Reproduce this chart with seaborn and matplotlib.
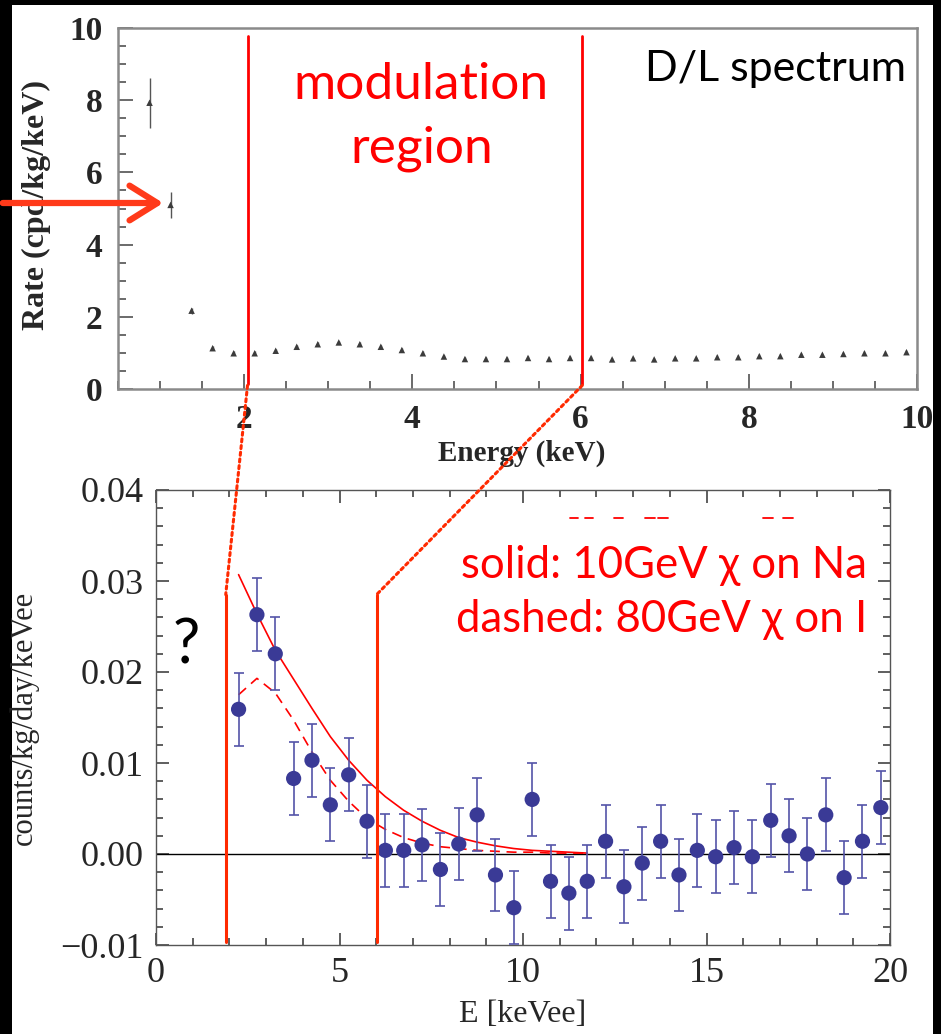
import numpy as np
import pandas as pd
import matplotlib
matplotlib.use("Agg")
import matplotlib.pyplot as plt
import seaborn as sns
from matplotlib.patches import Rectangle, FancyArrowPatch, ConnectionPatch
from matplotlib.ticker import MultipleLocator

# ---------------- data ----------------
# top panel: DAMA/LIBRA low-energy spectrum
dl_energy = [0.875, 1.125, 1.375, 1.625, 1.875, 2.125, 2.375, 2.625, 2.875, 3.125,
             3.375, 3.625, 3.875, 4.125, 4.375, 4.625, 4.875, 5.125, 5.375, 5.625,
             5.875, 6.125, 6.375, 6.625, 6.875, 7.125, 7.375, 7.625, 7.875, 8.125,
             8.375, 8.625, 8.875, 9.125, 9.375, 9.625, 9.875]
dl_rate = [7.93, 5.10, 2.17, 1.13, 0.99, 0.99, 1.06, 1.17, 1.24, 1.29,
           1.24, 1.17, 1.08, 0.99, 0.90, 0.83, 0.83, 0.83, 0.86, 0.83,
           0.86, 0.86, 0.82, 0.85, 0.82, 0.85, 0.85, 0.88, 0.88, 0.91,
           0.91, 0.95, 0.95, 0.97, 0.99, 0.99, 1.02]
dl_err = [0.69, 0.35, 0.08] + [0.05] * 34

# bottom panel: residual spectrum
e_kevee = [2.25, 2.75, 3.25, 3.75, 4.25, 4.75, 5.25, 5.75, 6.25, 6.75,
           7.25, 7.75, 8.25, 8.75, 9.25, 9.75, 10.25, 10.75, 11.25, 11.75,
           12.25, 12.75, 13.25, 13.75, 14.25, 14.75, 15.25, 15.75, 16.25, 16.75,
           17.25, 17.75, 18.25, 18.75, 19.25, 19.75]
counts = [0.0159, 0.0263, 0.0220, 0.0083, 0.0103, 0.0054, 0.0087, 0.0036, 0.0004, 0.0004,
          0.0010, -0.0017, 0.0011, 0.0043, -0.0023, -0.0059, 0.0060, -0.0030, -0.0043, -0.0030,
          0.0014, -0.0036, -0.0010, 0.0014, -0.0023, 0.0004, -0.0003, 0.0007, -0.0003, 0.0037,
          0.0020, 0.0000, 0.0043, -0.0026, 0.0014, 0.0051]
counts_err = [0.0040] * 36

curve_e = [2.25, 2.75, 3.25, 3.75, 4.25, 4.75, 5.25, 5.75, 6.25, 6.75,
           7.25, 7.75, 8.25, 8.75, 9.25, 9.75, 10.25, 10.75, 11.25, 11.75]
solid_na10 = [0.0307, 0.0264, 0.0224, 0.0192, 0.0160, 0.0129, 0.0103, 0.0081, 0.0063, 0.0048,
              0.0036, 0.0026, 0.0018, 0.0013, 0.0009, 0.0006, 0.0004, 0.0003, 0.0002, 0.0001]
dashed_i80 = [0.0175, 0.0193, 0.0177, 0.0147, 0.0112, 0.0081, 0.0058, 0.0039, 0.0027, 0.0018,
              0.0012, 0.0008, 0.0006, 0.0004, 0.0003, 0.0002, 0.0002, 0.0001, 0.0001, 0.0001]

top_xticks = [2, 4, 6, 8, 10]
top_yticks = [0, 2, 4, 6, 8, 10]
bot_xticks = [0, 5, 10, 15, 20]
bot_yticks = [-0.01, 0.00, 0.01, 0.02, 0.03, 0.04]

# ---------------- style ----------------
sns.set_style("ticks")
plt.rcParams["font.family"] = ["Liberation Serif", "DejaVu Serif"]
plt.rcParams["xtick.direction"] = "in"
plt.rcParams["ytick.direction"] = "in"

W, H = 941, 1034
fig = plt.figure(figsize=(W / 100, H / 100), dpi=100)
fig.patch.set_facecolor("black")
bg = Rectangle((12 / W, 0), (933 - 12) / W, 1 - 5 / H,
               transform=fig.transFigure, facecolor="white",
               edgecolor="none", zorder=-10)
fig.add_artist(bg)

def fx(px):
    return px / W

def fy(py):
    return 1 - py / H

SANS = ["Lato", "DejaVu Sans"]
RED = "#ff0000"

# ---------------- top panel ----------------
ax1 = fig.add_axes([fx(118), fy(389), fx(917) - fx(118), fy(28) - fy(389)])
ax1.set_facecolor("white")
df_top = pd.DataFrame({"E": dl_energy, "R": dl_rate, "err": dl_err})
ax1.errorbar(df_top["E"], df_top["R"], yerr=df_top["err"], fmt="none",
             ecolor="#555555", elinewidth=1.0, capsize=0, zorder=2)
sns.scatterplot(data=df_top, x="E", y="R", ax=ax1, marker="^", s=22,
                color="#3c3c3c", edgecolor="none", zorder=3, legend=False)
ax1.set_xlim(0.5, 10)
ax1.set_ylim(0, 10)
ax1.set_xticks(top_xticks)
ax1.set_yticks(top_yticks)
ax1.xaxis.set_minor_locator(MultipleLocator(0.5))
ax1.yaxis.set_minor_locator(MultipleLocator(0.5))
ax1.tick_params(axis="both", which="major", direction="in", length=11, width=1.4,
                color="#6a6a6a", labelsize=24, pad=11, bottom=True, left=True,
                top=False, right=False)
ax1.tick_params(axis="both", which="minor", direction="in", length=5.5, width=1.4,
                color="#6a6a6a", bottom=True, left=True, top=False, right=False)
for lab in ax1.get_xticklabels() + ax1.get_yticklabels():
    lab.set_fontweight("bold")
for sp in ax1.spines.values():
    sp.set_color("#8a8a8a")
    sp.set_linewidth(1.8)
ax1.set_xlabel("Energy (keV)", fontsize=21, fontweight="bold")
ax1.set_ylabel("Rate (cpd/kg/keV)", fontsize=23, fontweight="bold")
ax1.xaxis.set_label_coords(0.505, -0.141)
ax1.yaxis.set_label_coords(-0.084, 0.51)

# red region lines on top panel
for xv in (2.04, 6.02):
    ax1.plot([xv, xv], [0.15, 9.78], color=RED, lw=2.0, zorder=4)

# ---------------- bottom panel ----------------
ax2 = fig.add_axes([fx(156), fy(945), fx(890) - fx(156), fy(490) - fy(945)])
ax2.set_facecolor("white")
df_bot = pd.DataFrame({"E": e_kevee, "c": counts, "err": counts_err})
df_curve = pd.DataFrame({"E": curve_e, "solid": solid_na10, "dashed": dashed_i80})

ax2.axhline(0, color="black", lw=1.0, zorder=1)
sns.lineplot(data=df_curve, x="E", y="solid", ax=ax2, color=RED, lw=1.2, zorder=2)
sns.lineplot(data=df_curve, x="E", y="dashed", ax=ax2, color=RED, lw=1.2,
             dashes=(6, 4), zorder=2)
ax2.errorbar(df_bot["E"], df_bot["c"], yerr=df_bot["err"], fmt="none",
             ecolor="#5454a8", elinewidth=1.2, capsize=3.5, capthick=1.2, zorder=3)
sns.scatterplot(data=df_bot, x="E", y="c", ax=ax2, s=120, color="#3a3a96",
                edgecolor="none", zorder=4, legend=False)
ax2.set_xlim(0, 20)
ax2.set_ylim(-0.01, 0.04)
ax2.set_xticks(bot_xticks)
ax2.set_yticks(bot_yticks)
ax2.set_yticklabels(["\u22120.01", "0.00", "0.01", "0.02", "0.03", "0.04"])
ax2.xaxis.set_minor_locator(MultipleLocator(1))
ax2.yaxis.set_minor_locator(MultipleLocator(0.002))
ax2.tick_params(axis="both", which="major", direction="in", length=9, width=1.1,
                color="#333333", labelsize=26, pad=9, top=True, right=True,
                bottom=True, left=True)
ax2.tick_params(axis="both", which="minor", direction="in", length=5, width=1.1,
                color="#333333", top=True, right=True, bottom=True, left=True)
for sp in ax2.spines.values():
    sp.set_color("#555555")
    sp.set_linewidth(1.0)
ax2.set_xlabel("E [keVee]", fontsize=23)
ax2.set_ylabel("counts/kg/day/keVee", fontsize=22)
ax2.xaxis.set_label_coords(0.5, -0.121)
ax2.yaxis.set_label_coords(-0.159, 0.5)

# red region lines on bottom panel
for xv in (1.90, 6.01):
    ax2.plot([xv, xv], [-0.0097, 0.0285], color="#ff2a00", lw=2.2, zorder=5,
             clip_on=False)

# legend-like stray dashes
for x0, x1 in [(11.28, 11.51), (11.69, 11.92), (12.48, 12.73), (13.32, 13.60),
               (13.69, 13.96), (16.53, 16.80), (17.09, 17.37)]:
    ax2.plot([x0, x1], [0.0369, 0.0369], color=RED, lw=1.3, zorder=2)

# dotted connectors between the panels
for (xa, xb) in [(2.04, 1.90), (6.02, 6.01)]:
    con = ConnectionPatch(xyA=(xa, 0.1), coordsA=ax1.transData,
                          xyB=(xb, 0.0285), coordsB=ax2.transData,
                          color="#ff2a00", lw=2.2, linestyle=(0, (1, 1.2)), zorder=6)
    fig.add_artist(con)

# ---------------- annotations ----------------
fig.text(fx(645), fy(81), "D/L spectrum", family=SANS, fontsize=31,
         color="black", ha="left", va="baseline")
fig.text(fx(421), fy(99), "modulation", family=SANS, fontsize=37,
         color=RED, ha="center", va="baseline")
fig.text(fx(422), fy(163), "region", family=SANS, fontsize=37,
         color=RED, ha="center", va="baseline")
fig.text(fx(867), fy(578), "solid: 10GeV \u03c7 on Na", family=SANS, fontsize=31.5,
         color=RED, ha="right", va="baseline")
fig.text(fx(867), fy(632), "dashed: 80GeV \u03c7 on I", family=SANS, fontsize=31.5,
         color=RED, ha="right", va="baseline")
fig.text(fx(186), fy(663), "?", family=SANS, fontsize=44,
         color="black", ha="center", va="baseline")

arrow = FancyArrowPatch((fx(0), fy(203)), (fx(166), fy(203)),
                        transform=fig.transFigure,
                        arrowstyle="->,head_length=8,head_width=5",
                        color="#ff3a1a", lw=4.5, zorder=10,
                        mutation_scale=2.5)
fig.add_artist(arrow)

fig.savefig("out.png", dpi=100, facecolor=fig.get_facecolor())
